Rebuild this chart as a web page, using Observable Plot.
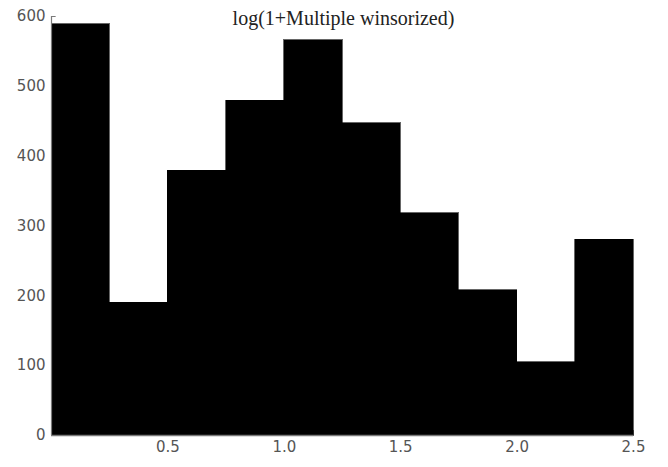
<!DOCTYPE html>
<html>
<head>
<meta charset="utf-8">
<script src="https://cdn.jsdelivr.net/npm/d3@7"></script>
<script src="https://cdn.jsdelivr.net/npm/@observablehq/plot@0.6"></script>
<style>
  html, body { margin: 0; padding: 0; background: #fff; }
  #chart { width: 668px; height: 467px; }
</style>
</head>
<body>
<div id="chart"></div>
<script>
const title = "log(1+Multiple winsorized)";
const binStart = [0, 0.25, 0.5, 0.75, 1.0, 1.25, 1.5, 1.75, 2.0, 2.25];
const binEnd   = [0.25, 0.5, 0.75, 1.0, 1.25, 1.5, 1.75, 2.0, 2.25, 2.5];
const counts   = [589, 190, 379, 479, 566, 447, 318, 208, 105, 280];
const xTicks = [0.5, 1.0, 1.5, 2.0, 2.5];
const yTicks = [0, 100, 200, 300, 400, 500, 600];

const bins = binStart.map((s, i) => ({x1: s, x2: binEnd[i], y: counts[i]}));

const axisColor = "#7a7a7a";
const labelFont = "DejaVu Sans, sans-serif";

const chart = Plot.plot({
  width: 668,
  height: 467,
  marginLeft: 51,
  marginRight: 35,
  marginTop: 16,
  marginBottom: 32,
  x: {domain: [0, 2.5]},
  y: {domain: [0, 600]},
  style: {background: "#fff", fontFamily: labelFont},
  marks: [
    // short inward ticks (mostly hidden behind the bars)
    Plot.ruleY(yTicks, {y: d => d, x1: 0, x2: 0.02, stroke: axisColor}),
    Plot.ruleX(xTicks, {x: d => d, y1: 0, y2: 7, stroke: axisColor}),
    Plot.rectY(bins, {x1: "x1", x2: "x2", y: "y", fill: "#000", stroke: "#000", strokeWidth: 0.6, shapeRendering: "crispEdges"}),
    Plot.ruleX([0], {stroke: axisColor, strokeWidth: 1.2}),
    Plot.ruleY([0], {stroke: axisColor, strokeWidth: 1.5}),
    Plot.axisY(yTicks, {tickSize: 0, tickPadding: 6, fontSize: 15, fill: "#555", label: null}),
    Plot.axisX(xTicks, {tickSize: 0, tickPadding: 6, fontSize: 15, fill: "#555", label: null, tickFormat: d3.format(".1f")}),
    Plot.text([title], {frameAnchor: "top", dx: 1, dy: 2, text: d => d, fontSize: 20, fontFamily: "Liberation Serif, serif", fill: "#222", lineAnchor: "middle"})
  ]
});
document.getElementById("chart").appendChild(chart);
</script>
</body>
</html>
